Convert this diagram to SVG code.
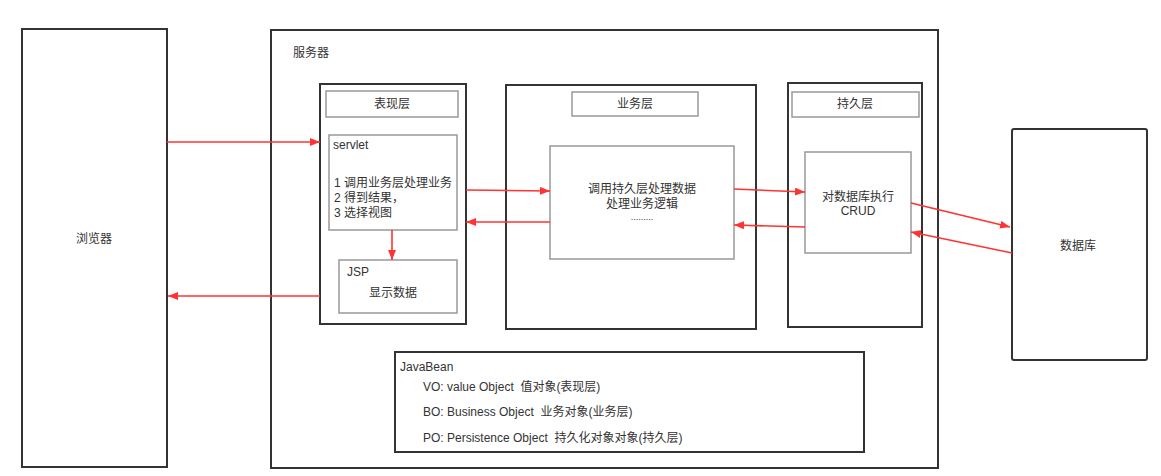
<svg xmlns="http://www.w3.org/2000/svg" width="1161" height="476" viewBox="0 0 1161 476">
<style>
.outer{fill:#fff;stroke:#333;stroke-width:2}
.inner{fill:#fff;stroke:#999;stroke-width:1.5}
.t{font-family:"Liberation Sans","Noto Sans CJK SC",sans-serif;font-size:12px;fill:#333;white-space:pre}
.c{text-anchor:middle;dominant-baseline:central}
.l{dominant-baseline:central}
.arr{fill:none;stroke:#ff3333;stroke-width:1.6;marker-end:url(#ah)}
</style>
<defs>
<marker id="ah" viewBox="0 0 10 8" refX="10" refY="4" markerWidth="10" markerHeight="8" markerUnits="userSpaceOnUse" orient="auto">
<path d="M0,0 L10,4 L0,8 Z" fill="#ff3333"/>
</marker>
</defs>
<rect width="1161" height="476" fill="#fff"/>
<g id="browser">
<rect class="outer" x="22" y="29" width="145" height="438"/>
<text class="t c" x="94" y="239">浏览器</text>
</g>
<g id="server">
<rect class="outer" x="271" y="30" width="667" height="438"/>
<text class="t l" x="293" y="53">服务器</text>
</g>
<g id="presentation">
<rect class="outer" x="320" y="84" width="146" height="240"/>
<rect class="inner" x="326" y="91" width="132" height="26"/>
<text class="t c" x="392" y="104">表现层</text>
</g>
<g id="servlet">
<rect class="inner" x="329" y="135" width="128" height="95"/>
<text class="t l" x="333" y="145">servlet</text>
<text class="t l" x="334" y="183">1 调用业务层处理业务</text>
<text class="t l" x="334" y="198">2 得到结果，</text>
<text class="t l" x="334" y="213">3 选择视图</text>
</g>
<g id="jsp">
<rect class="inner" x="339" y="260" width="118" height="53"/>
<text class="t l" x="347" y="272">JSP</text>
<text class="t c" x="393" y="293">显示数据</text>
</g>
<g id="business">
<rect class="outer" x="506" y="85" width="250" height="244"/>
<rect class="inner" x="572" y="92" width="126" height="24"/>
<text class="t c" x="635" y="104">业务层</text>
</g>
<g id="business-logic">
<rect class="inner" x="550" y="146" width="184" height="113"/>
<text class="t c" x="642" y="189">调用持久层处理数据</text>
<text class="t c" x="642" y="204">处理业务逻辑</text>
<text class="t c" x="642" y="217" style="font-size:9px">.........</text>
</g>
<g id="persistence">
<rect class="outer" x="788" y="83" width="134" height="244"/>
<rect class="inner" x="792" y="92" width="127" height="25"/>
<text class="t c" x="855" y="104">持久层</text>
</g>
<g id="crud">
<rect class="inner" x="805" y="152" width="106" height="101"/>
<text class="t c" x="858" y="197">对数据库执行</text>
<text class="t c" x="858" y="211">CRUD</text>
</g>
<g id="database">
<rect class="outer" x="1012" y="129" width="135" height="231" rx="2"/>
<text class="t c" x="1078" y="246">数据库</text>
</g>
<g id="javabean">
<rect class="outer" x="395" y="352" width="469" height="100"/>
<text class="t l" x="400" y="367">JavaBean</text>
<text class="t l" x="423" y="387">VO: value Object  值对象(表现层)</text>
<text class="t l" x="423" y="412">BO: Business Object  业务对象(业务层)</text>
<text class="t l" x="423" y="438">PO: Persistence Object  持久化对象对象(持久层)</text>
</g>
<g id="connectors">
<path class="arr" d="M167,142 L320,142"/>
<path class="arr" d="M320,296 L168,296"/>
<path class="arr" d="M392,230 L392,260"/>
<path class="arr" d="M466,190 L550,191"/>
<path class="arr" d="M550,222 L466,222"/>
<path class="arr" d="M734,189 L805,192"/>
<path class="arr" d="M805,227 L734,225"/>
<path class="arr" d="M911,203 L1010,227"/>
<path class="arr" d="M1012,253 L911,232"/>
</g>
</svg>
